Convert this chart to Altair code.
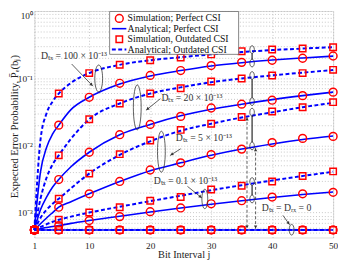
import math
import altair as alt
import pandas as pd

FONT = "Liberation Serif"
BLUE = "#0000ff"
RED = "#ff0000"
INK = "#333333"

# ---------------- data ----------------
j_sim = [1, 5, 10, 15, 20, 25, 30, 35, 40, 45, 50]
j_line = [1, 2, 3, 4, 5, 7, 10, 15, 20, 25, 30, 35, 40, 45, 50]
j_flat = [1, 50]

# simulation, perfect CSI (circles)
sim_perf_100 = [5.5e-4, 0.020, 0.052, 0.084, 0.110, 0.130, 0.154, 0.172, 0.185, 0.198, 0.214]
sim_perf_20 = [5.5e-4, 0.0031, 0.0079, 0.0144, 0.0205, 0.027, 0.036, 0.041, 0.047, 0.055, 0.062]
sim_perf_5 = [5.5e-4, 0.0012, 0.0019, 0.0029, 0.0043, 0.0055, 0.0073, 0.0088, 0.011, 0.0127, 0.0136]
sim_perf_01 = [5.5e-4, 6.4e-4, 7.6e-4, 8.7e-4, 1.03e-3, 1.17e-3, 1.35e-3, 1.5e-3, 1.7e-3, 1.9e-3, 2.0e-3]
sim_perf_0 = [5.5e-4, 5.5e-4, 5.5e-4, 5.5e-4, 5.5e-4, 5.5e-4, 5.5e-4, 5.5e-4, 5.5e-4, 5.5e-4, 5.5e-4]

# simulation, outdated CSI (squares)
sim_out_100 = [5.5e-4, 0.059, 0.119, 0.159, 0.185, 0.203, 0.226, 0.252, 0.267, 0.276, 0.288]
sim_out_20 = [5.5e-4, 0.0071, 0.0244, 0.042, 0.059, 0.071, 0.089, 0.099, 0.110, 0.119, 0.133]
sim_out_5 = [5.5e-4, 0.0016, 0.0038, 0.0074, 0.0118, 0.017, 0.021, 0.0264, 0.032, 0.037, 0.044]
sim_out_01 = [5.5e-4, 7.8e-4, 1.0e-3, 1.2e-3, 1.5e-3, 1.7e-3, 2.2e-3, 2.5e-3, 2.9e-3, 3.5e-3, 4.1e-3]
sim_out_0 = [5.5e-4, 5.5e-4, 5.5e-4, 5.5e-4, 5.5e-4, 5.5e-4, 5.5e-4, 5.5e-4, 5.5e-4, 5.5e-4, 5.5e-4]

# analytical, perfect CSI (solid)
ana_perf_100 = [5.5e-4, 0.0040, 0.0093, 0.0148, 0.020, 0.034, 0.052, 0.082, 0.108, 0.130, 0.152, 0.170, 0.186, 0.200, 0.213]
ana_perf_20 = [5.5e-4, 0.0011, 0.0017, 0.0024, 0.0031, 0.0048, 0.0079, 0.0144, 0.0205, 0.0275, 0.0345, 0.041, 0.048, 0.055, 0.062]
ana_perf_5 = [5.5e-4, 6.8e-4, 8.3e-4, 1.0e-3, 1.2e-3, 1.45e-3, 1.9e-3, 2.9e-3, 4.2e-3, 5.5e-3, 7.1e-3, 8.8e-3, 0.0105, 0.0122, 0.0138]
ana_perf_01 = [5.5e-4, 5.75e-4, 6.0e-4, 6.2e-4, 6.4e-4, 6.9e-4, 7.6e-4, 8.8e-4, 1.02e-3, 1.17e-3, 1.33e-3, 1.5e-3, 1.68e-3, 1.86e-3, 2.02e-3]
ana_perf_0 = [5.5e-4, 5.5e-4]

# analytical, outdated CSI (dashed)
ana_out_100 = [5.5e-4, 0.012, 0.030, 0.045, 0.059, 0.085, 0.119, 0.158, 0.185, 0.205, 0.226, 0.245, 0.262, 0.276, 0.289]
ana_out_20 = [5.5e-4, 0.0016, 0.0033, 0.0052, 0.0071, 0.0125, 0.0244, 0.042, 0.059, 0.073, 0.087, 0.099, 0.110, 0.121, 0.132]
ana_out_5 = [5.5e-4, 8.3e-4, 1.1e-3, 1.35e-3, 1.6e-3, 2.3e-3, 3.8e-3, 7.2e-3, 0.0115, 0.0165, 0.021, 0.026, 0.031, 0.037, 0.043]
ana_out_01 = [5.5e-4, 6.1e-4, 6.7e-4, 7.3e-4, 7.8e-4, 8.7e-4, 1.0e-3, 1.22e-3, 1.48e-3, 1.78e-3, 2.15e-3, 2.55e-3, 3.0e-3, 3.5e-3, 4.05e-3]
ana_out_0 = [5.5e-4, 5.5e-4]

x_ticks = [1, 10, 20, 30, 40, 50]
y_ticks = [5e-4, 6e-4, 7e-4, 8e-4, 9e-4,
           1e-3, 2e-3, 3e-3, 4e-3, 5e-3, 6e-3, 7e-3, 8e-3, 9e-3,
           1e-2, 2e-2, 3e-2, 4e-2, 5e-2, 6e-2, 7e-2, 8e-2, 9e-2,
           1e-1, 2e-1, 3e-1, 4e-1, 5e-1, 6e-1, 7e-1, 8e-1, 9e-1, 1.0]

legend_labels = ["Simulation; Perfect CSI", "Analytical; Perfect CSI",
                 "Simulation, Outdated CSI", "Analytical; Outdated CSI"]
ann_labels = ["D\u209c\u2093 = 100 \u00d7 10\u207b\u00b9\u00b3",
              "D\u209c\u2093 = 20 \u00d7 10\u207b\u00b9\u00b3",
              "D\u209c\u2093 = 5 \u00d7 10\u207b\u00b9\u00b3",
              "D\u209c\u2093 = 0.1 \u00d7 10\u207b\u00b9\u00b3",
              "D\u209c\u2093 = D\u1d63\u2093 = 0"]
x_title = "Bit Interval j"
y_title = "Expected Error Probability, P\u0304\u2091(b\u2c7c)"


def frame(js, vals, key):
    return pd.DataFrame({"j": js, "p": vals, "D": key})


df_sim_perf = pd.concat([frame(j_sim, sim_perf_100, "100"), frame(j_sim, sim_perf_20, "20"),
                         frame(j_sim, sim_perf_5, "5"), frame(j_sim, sim_perf_01, "0.1"),
                         frame(j_sim, sim_perf_0, "0")])
df_sim_out = pd.concat([frame(j_sim, sim_out_100, "100"), frame(j_sim, sim_out_20, "20"),
                        frame(j_sim, sim_out_5, "5"), frame(j_sim, sim_out_01, "0.1"),
                        frame(j_sim, sim_out_0, "0")])
df_ana_perf = pd.concat([frame(j_line, ana_perf_100, "100"), frame(j_line, ana_perf_20, "20"),
                         frame(j_line, ana_perf_5, "5"), frame(j_line, ana_perf_01, "0.1"),
                         frame(j_flat, ana_perf_0, "0")])
df_ana_out = pd.concat([frame(j_line, ana_out_100, "100"), frame(j_line, ana_out_20, "20"),
                        frame(j_line, ana_out_5, "5"), frame(j_line, ana_out_01, "0.1"),
                        frame(j_flat, ana_out_0, "0")])

# ---------------- geometry ----------------
W, H = 306, 232

e = "round(log(datum.value)/LN10)"
is_dec = f"abs(log(datum.value)/LN10 - {e}) < 0.001"
y_label_expr = (f"{is_dec} ? ({e} == 0 ? '10\u2070' : {e} == -1 ? '10\u207b\u00b9' : "
                f"{e} == -2 ? '10\u207b\u00b2' : '10\u207b\u00b3') : ''")

x_enc = alt.X("j:Q",
              scale=alt.Scale(domain=[1, 50], nice=False, zero=False),
              axis=alt.Axis(values=x_ticks, title=x_title, grid=True, gridDash=[1, 2],
                            gridColor="#b8b8b8", gridWidth=0.8, domain=False, ticks=False,
                            labelFont=FONT, labelFontSize=9.5, labelPadding=3, labelColor="#222",
                            labelFlush=False,
                            titleFont=FONT, titleFontSize=10.5, titleFontWeight="normal",
                            titleColor="#222", titleBaseline="alphabetic", titleY=20))
y_enc = alt.Y("p:Q",
              scale=alt.Scale(type="log", domain=[4.25e-4, 1], nice=False),
              axis=alt.Axis(values=y_ticks, labelExpr=y_label_expr, title=y_title, grid=True,
                            gridDash=[1, 2], gridColor="#b8b8b8", gridWidth=0.8, domain=False,
                            ticks=False, labelOverlap=False, labelFlush=True,
                            labelFont=FONT, labelFontSize=9.5, labelPadding=2, labelColor="#222",
                            titleFont=FONT, titleFontSize=11, titleFontWeight="normal",
                            titleColor="#222", titleAngle=270, titleBaseline="middle",
                            titleAlign="center", titleX=-20, titleY=118))

ana_perf_layer = alt.Chart(df_ana_perf).mark_line(
    color=BLUE, strokeWidth=1.6, interpolate="monotone").encode(x=x_enc, y=y_enc, detail="D:N")
ana_out_layer = alt.Chart(df_ana_out).mark_line(
    color=BLUE, strokeWidth=2, strokeDash=[4, 2.5], interpolate="monotone").encode(
    x=x_enc, y=y_enc, detail="D:N")
sim_perf_layer = alt.Chart(df_sim_perf).mark_point(
    shape="circle", filled=False, color=RED, size=64, strokeWidth=1.5, opacity=1).encode(
    x=x_enc, y=y_enc)
sim_out_layer = alt.Chart(df_sim_out).mark_point(
    shape="square", filled=False, color=RED, size=44, strokeWidth=1.5, opacity=1).encode(
    x=x_enc, y=y_enc)


def one():
    return pd.DataFrame({"k": [0]})


def text_layer(txt, x, y, size=10, color=INK):
    return alt.Chart(one()).mark_text(text=txt, align="left", baseline="middle", font=FONT,
                                      fontSize=size, color=color).encode(
        x=alt.value(x), y=alt.value(y))


def rule_layer(x1, y1, x2, y2, dash=None, color=INK, w=0.8):
    kw = dict(color=color, strokeWidth=w)
    if dash:
        kw["strokeDash"] = dash
    return alt.Chart(one()).mark_rule(**kw).encode(
        x=alt.value(x1), y=alt.value(y1), x2=alt.value(x2), y2=alt.value(y2))


def ellipse_layer(x, y, a, b):
    r = round(a / b, 4)
    path = f"M {-r},0 A {r},1 0 1,0 {r},0 A {r},1 0 1,0 {-r},0 Z"
    return alt.Chart(one()).mark_point(shape=path, size=(2 * b) ** 2, filled=False, color=INK,
                                       strokeWidth=0.8, opacity=1).encode(
        x=alt.value(x), y=alt.value(y))


def arrow_head(x, y, dx, dy, size=12):
    ang = math.degrees(math.atan2(dx, -dy)) % 360
    L = math.hypot(dx, dy)
    ux, uy = dx / L, dy / L
    cx, cy = x - ux * 2.0, y - uy * 2.0
    return alt.Chart(one()).mark_point(shape="triangle-up", filled=True, size=size, angle=ang,
                                       color=INK, opacity=1).encode(
        x=alt.value(cx), y=alt.value(cy))


def arrow(x1, y1, x2, y2, dash=None):
    return [rule_layer(x1, y1, x2, y2, dash=dash), arrow_head(x2, y2, x2 - x1, y2 - y1)]


ann = []
# D = 100
ann += [text_layer(ann_labels[0], 6.9, 46.6), ellipse_layer(65.9, 69.1, 4, 13.8)]
ann += arrow(38.2, 54.3, 60.0, 77.0)
# D = 20
ann += [text_layer(ann_labels[1], 130.1, 88.8), ellipse_layer(105.4, 98.7, 4, 23)]
ann += arrow(129.1, 89.8, 114.3, 101.7)
# D = 5
ann += [text_layer(ann_labels[2], 144.9, 130.3), ellipse_layer(130.1, 144.1, 4, 21)]
ann += arrow(149.9, 141.1, 139.0, 148.0)
# D = 0.1
ann += [text_layer(ann_labels[3], 122.2, 173.7), ellipse_layer(174.6, 192.5, 3, 10)]
ann += arrow(156.8, 179.6, 171.6, 191.5)
# D = 0
ann += [text_layer(ann_labels[4], 232.9, 202.3), ellipse_layer(263.5, 224.0, 2.5, 5.5)]
ann += arrow(254.6, 209.3, 261.5, 219.0)
# small ellipse pairs joined by solid lines
for ya, yb in [(39.5, 53.3), (66.1, 92.8), (103.6, 138.2), (174.7, 192.5)]:
    ann += [ellipse_layer(223.0, ya, 2.3, 4), ellipse_layer(223.0, yb, 2.3, 4),
            rule_layer(223.0, ya + 4, 223.0, yb - 4, color="#111", w=1.1)]
# dashed double arrows
for xx, ytop in [(217.8, 108.6), (226.6, 140.2)]:
    ann += [rule_layer(xx, ytop, xx, 223.1, dash=[3, 2]),
            arrow_head(xx, ytop, 0, -1), arrow_head(xx, 223.1, 0, 1)]

# legend
leg_rows = [7.6, 18.1, 28.9, 39.5]
legend = [
    alt.Chart(one()).mark_rect(fill="white", stroke="#666", strokeWidth=0.8).encode(
        x=alt.value(77.1), x2=alt.value(209.2), y=alt.value(0.5), y2=alt.value(44.4)),
    alt.Chart(one()).mark_point(shape="circle", filled=False, color=RED, size=64,
                                strokeWidth=1.5, opacity=1).encode(
        x=alt.value(87.0), y=alt.value(leg_rows[0])),
    rule_layer(79.4, leg_rows[1], 94.2, leg_rows[1], color=BLUE, w=1.6),
    alt.Chart(one()).mark_point(shape="square", filled=False, color=RED, size=44,
                                strokeWidth=1.5, opacity=1).encode(
        x=alt.value(87.0), y=alt.value(leg_rows[2])),
    rule_layer(79.4, leg_rows[3], 94.2, leg_rows[3], dash=[4, 2.5], color=BLUE, w=2),
]
for lab, yy in zip(legend_labels, leg_rows):
    legend.append(text_layer(lab, 95.5, yy, size=10, color="#111"))

chart = alt.layer(ana_perf_layer, ana_out_layer, sim_perf_layer, sim_out_layer,
                  *ann, *legend).properties(
    width=W, height=H,
    autosize=alt.AutoSizeParams(type="none"),
    padding={"left": 27, "top": 0, "right": 5, "bottom": 22},
).configure_view(stroke="#444", strokeWidth=0.8).configure(background="white")

chart.save("out.html", embed_options={"renderer": "svg", "actions": False})
